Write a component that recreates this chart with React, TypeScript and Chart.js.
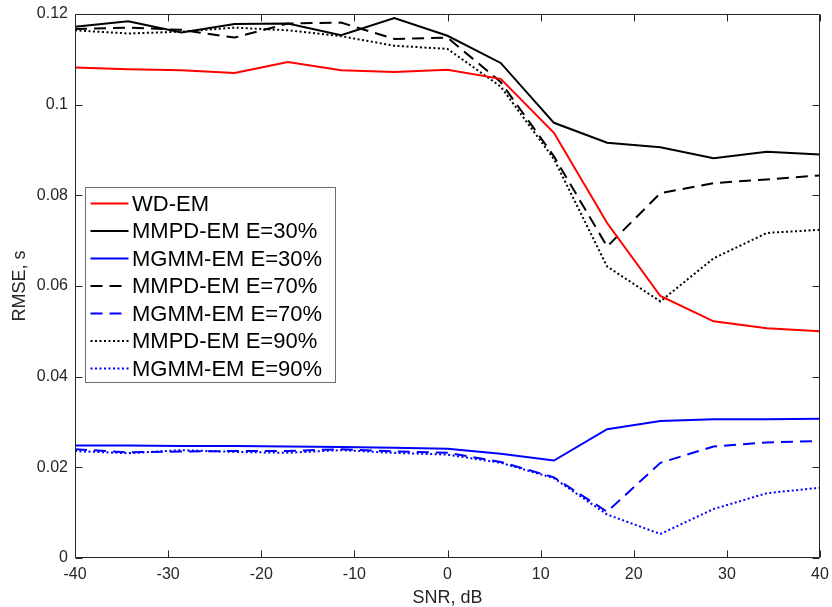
import React, { useEffect, useRef } from "react";
import { Chart, registerables } from "chart.js";

Chart.register(...registerables);

const snr = [-40, -34.29, -28.57, -22.86, -17.14, -11.43, -5.71, 0, 5.71, 11.43, 17.14, 22.86, 28.57, 34.29, 40];

const wdEm = [0.1082, 0.1078, 0.1076, 0.107, 0.1094, 0.1076, 0.1072, 0.1077, 0.1057, 0.0938, 0.0739, 0.0578, 0.0522, 0.0507, 0.05];
const mmpd30 = [0.1172, 0.1184, 0.1159, 0.1178, 0.1179, 0.1153, 0.1191, 0.1152, 0.1092, 0.096, 0.0916, 0.0906, 0.0882, 0.0896, 0.089];
const mgmm30 = [0.0248, 0.0248, 0.0247, 0.0247, 0.0246, 0.0245, 0.0243, 0.0241, 0.023, 0.0215, 0.0284, 0.0302, 0.0306, 0.0306, 0.0307];
const mmpd70 = [0.1167, 0.117, 0.1165, 0.1148, 0.1179, 0.1181, 0.1145, 0.1148, 0.105, 0.0886, 0.0687, 0.0805, 0.0827, 0.0835, 0.0844];
const mgmm70 = [0.024, 0.0233, 0.0235, 0.0236, 0.0236, 0.024, 0.0235, 0.0232, 0.0212, 0.0178, 0.0102, 0.021, 0.0246, 0.0255, 0.0258];
const mmpd90 = [0.1164, 0.1157, 0.1161, 0.117, 0.1164, 0.1151, 0.113, 0.1123, 0.104, 0.088, 0.0643, 0.0566, 0.0661, 0.0717, 0.0724];
const mgmm90 = [0.0236, 0.0231, 0.0238, 0.0234, 0.0232, 0.0238, 0.0232, 0.0228, 0.021, 0.0176, 0.0096, 0.0053, 0.0108, 0.0143, 0.0155];

const seriesLabels = [
  "WD-EM",
  "MMPD-EM E=30%",
  "MGMM-EM E=30%",
  "MMPD-EM E=70%",
  "MGMM-EM E=70%",
  "MMPD-EM E=90%",
  "MGMM-EM E=90%",
];

const xTicks = [-40, -30, -20, -10, 0, 10, 20, 30, 40];
const yTicks = [0, 0.02, 0.04, 0.06, 0.08, 0.1, 0.12];

const FONT = "'Liberation Sans', Arial, Helvetica, sans-serif";
const RED = "#ff0000";
const BLACK = "#000000";
const BLUE = "#0000ff";
const DASH = [12, 7];
const DOT = [2, 2.5];

const toPts = (ys: number[]) => ys.map((y, i) => ({ x: snr[i], y }));

const axesPlugin = {
  id: "matlabAxes",
  afterDatasetsDraw(chart: any) {
    const { ctx, chartArea: a, scales } = chart;
    ctx.save();
    ctx.strokeStyle = "#262626";
    ctx.lineWidth = 1;
    const L = Math.round(a.left) + 0.5;
    const R = Math.round(a.right) - 0.5;
    const T = Math.round(a.top) + 0.5;
    const B = Math.round(a.bottom) - 0.5;
    ctx.beginPath();
    ctx.rect(L, T, R - L, B - T);
    ctx.stroke();
    const tl = 7;
    ctx.beginPath();
    xTicks.forEach((v) => {
      const px = Math.round(scales.x.getPixelForValue(v)) + 0.5;
      ctx.moveTo(px, B);
      ctx.lineTo(px, B - tl);
      ctx.moveTo(px, T);
      ctx.lineTo(px, T + tl);
    });
    yTicks.forEach((v) => {
      const py = Math.round(scales.y.getPixelForValue(v)) + 0.5;
      ctx.moveTo(L, py);
      ctx.lineTo(L + tl, py);
      ctx.moveTo(R, py);
      ctx.lineTo(R - tl, py);
    });
    ctx.stroke();
    ctx.restore();
  },
};

const legendPlugin = {
  id: "insideLegend",
  afterDraw(chart: any) {
    const { ctx, chartArea: a } = chart;
    const bx = a.left + 10.5;
    const by = 187.5;
    const bw = 250;
    const bh = 195;
    ctx.save();
    ctx.fillStyle = "#ffffff";
    ctx.fillRect(bx, by, bw, bh);
    ctx.strokeStyle = "#6e6e6e";
    ctx.lineWidth = 1;
    ctx.strokeRect(bx, by, bw, bh);
    ctx.font = `22px ${FONT}`;
    ctx.textBaseline = "middle";
    chart.data.datasets.forEach((ds: any, i: number) => {
      const cy = 203.5 + i * 27.5;
      ctx.beginPath();
      ctx.setLineDash(ds.borderDash || []);
      ctx.strokeStyle = ds.borderColor;
      ctx.lineWidth = 2;
      ctx.moveTo(bx + 5, cy);
      ctx.lineTo(bx + 43, cy);
      ctx.stroke();
      ctx.setLineDash([]);
      ctx.fillStyle = "#000000";
      ctx.fillText(ds.label, bx + 46.5, cy + 1);
    });
    ctx.restore();
  },
};

export default function App() {
  const ref = useRef<HTMLCanvasElement | null>(null);
  useEffect(() => {
    if (!ref.current) return;
    const mk = (i: number, ys: number[], color: string, dash: number[]) => ({
      label: seriesLabels[i],
      data: toPts(ys),
      borderColor: color,
      backgroundColor: color,
      borderWidth: 2,
      borderDash: dash,
      pointRadius: 0,
      fill: false,
      tension: 0,
    });
    const chart = new Chart(ref.current, {
      type: "line",
      data: {
        datasets: [
          mk(0, wdEm, RED, []),
          mk(1, mmpd30, BLACK, []),
          mk(2, mgmm30, BLUE, []),
          mk(3, mmpd70, BLACK, DASH),
          mk(4, mgmm70, BLUE, DASH),
          mk(5, mmpd90, BLACK, DOT),
          mk(6, mgmm90, BLUE, DOT),
        ],
      },
      options: {
        responsive: false,
        devicePixelRatio: 1,
        animation: false,
        layout: { padding: { top: 14, right: 12, left: 0, bottom: 0 } },
        plugins: {
          legend: { display: false },
          tooltip: { enabled: false },
        },
        scales: {
          x: {
            type: "linear",
            min: -40,
            max: 40,
            afterFit: (s: any) => {
              s.height = 49;
              s.paddingLeft = 0;
              s.paddingRight = 0;
            },
            afterBuildTicks: (s: any) => {
              s.ticks = xTicks.map((v) => ({ value: v }));
            },
            grid: { display: false, drawTicks: false },
            border: { display: false },
            ticks: {
              padding: 7,
              color: "#262626",
              font: { family: FONT, size: 16 },
              maxRotation: 0,
              callback: (v: any) => String(v),
            },
            title: {
              display: true,
              text: "SNR, dB",
              color: "#262626",
              font: { family: FONT, size: 18, lineHeight: 1 },
              padding: 0,
            },
          },
          y: {
            type: "linear",
            min: 0,
            max: 0.12,
            afterFit: (s: any) => {
              s.width = 75;
              s.paddingTop = 0;
              s.paddingBottom = 0;
            },
            afterBuildTicks: (s: any) => {
              s.ticks = yTicks.map((v) => ({ value: v }));
            },
            grid: { display: false, drawTicks: false },
            border: { display: false },
            ticks: {
              padding: 7,
              color: "#262626",
              font: { family: FONT, size: 16 },
              callback: (v: any) => String(Number(Number(v).toFixed(2))),
            },
            title: {
              display: true,
              text: "RMSE, s",
              color: "#262626",
              font: { family: FONT, size: 18, lineHeight: 1 },
              padding: { top: 11, bottom: 0 },
            },
          },
        },
      },
      plugins: [axesPlugin, legendPlugin],
    } as any);
    return () => chart.destroy();
  }, []);
  return (
    <div style={{ position: "fixed", left: 0, top: 0, width: 832, height: 607, background: "#fff" }}>
      <canvas ref={ref} width={832} height={607} style={{ width: 832, height: 607, display: "block" }} />
    </div>
  );
}
